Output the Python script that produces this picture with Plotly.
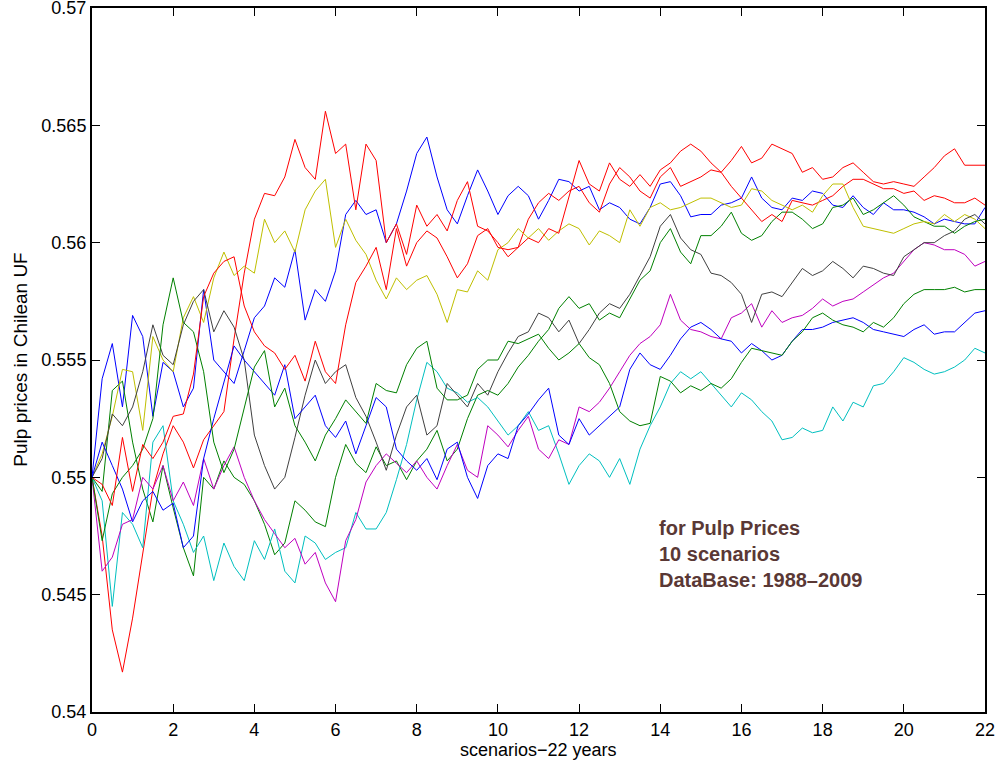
import plotly.graph_objects as go

# Simulated pulp price paths (Chilean UF), sampled every quarter year over 22 years.
blue_a = [
    0.5500, 0.5542, 0.5557, 0.5530,
    0.5569, 0.5560, 0.5526, 0.5549,
    0.5545, 0.5530, 0.5538, 0.5580,
    0.5550, 0.5545, 0.5540, 0.5554,
    0.5568, 0.5573, 0.5585, 0.5581,
    0.5597, 0.5567, 0.5580, 0.5575,
    0.5588, 0.5612, 0.5618, 0.5612,
    0.5614, 0.5600, 0.5608, 0.5622,
    0.5638, 0.5645, 0.5628, 0.5614,
    0.5608, 0.5620, 0.5631, 0.5622,
    0.5612, 0.5620, 0.5624, 0.5620,
    0.5610, 0.5618, 0.5627, 0.5626,
    0.5622, 0.5624, 0.5614, 0.5617,
    0.5615, 0.5610, 0.5608, 0.5615,
    0.5625, 0.5626, 0.5620, 0.5611,
    0.5612, 0.5612, 0.5616, 0.5617,
    0.5619, 0.5628, 0.5619, 0.5615,
    0.5614, 0.5619, 0.5618, 0.5622,
    0.5621, 0.5616, 0.5615, 0.5620,
    0.5615, 0.5612, 0.5617, 0.5614,
    0.5614, 0.5613, 0.5611, 0.5608,
    0.5610, 0.5609, 0.5608, 0.5608,
    0.5615,
]

green_a = [
    0.5500, 0.5494, 0.5537, 0.5541,
    0.5515, 0.5495, 0.5481, 0.5505,
    0.5487, 0.5470, 0.5458, 0.5500,
    0.5495, 0.5507, 0.5500, 0.5497,
    0.5490, 0.5480, 0.5467, 0.5472,
    0.5490, 0.5486, 0.5481, 0.5479,
    0.5500, 0.5514, 0.5506, 0.5502,
    0.5513, 0.5505, 0.5507, 0.5499,
    0.5507, 0.5512, 0.5520, 0.5507,
    0.5512, 0.5525, 0.5535, 0.5537,
    0.5535, 0.5540, 0.5547, 0.5552,
    0.5558, 0.5563, 0.5572, 0.5577,
    0.5572, 0.5574, 0.5567, 0.5570,
    0.5568, 0.5576, 0.5584, 0.5588,
    0.5600, 0.5606, 0.5596, 0.5591,
    0.5603, 0.5603, 0.5607, 0.5613,
    0.5604, 0.5601, 0.5603, 0.5609,
    0.5613, 0.5613, 0.5610, 0.5606,
    0.5608, 0.5615, 0.5616, 0.5619,
    0.5612, 0.5614, 0.5617, 0.5620,
    0.5616, 0.5611, 0.5609, 0.5607,
    0.5607, 0.5604, 0.5607, 0.5609,
    0.5610,
]

red_a = [
    0.5500, 0.5475, 0.5435, 0.5417,
    0.5440, 0.5468, 0.5495, 0.5510,
    0.5522, 0.5515, 0.5504, 0.5516,
    0.5522, 0.5528, 0.5559, 0.5587,
    0.5610, 0.5621, 0.5620, 0.5628,
    0.5644, 0.5632, 0.5627, 0.5656,
    0.5638, 0.5642, 0.5614, 0.5642,
    0.5635, 0.5600, 0.5608, 0.5595,
    0.5616, 0.5607, 0.5612, 0.5605,
    0.5618, 0.5626, 0.5607, 0.5605,
    0.5600, 0.5594, 0.5598, 0.5610,
    0.5617, 0.5621, 0.5618, 0.5622,
    0.5624, 0.5617, 0.5613, 0.5625,
    0.5632, 0.5628, 0.5622, 0.5619,
    0.5628, 0.5632, 0.5624, 0.5626,
    0.5628, 0.5631, 0.5630, 0.5624,
    0.5619, 0.5614, 0.5609, 0.5612,
    0.5609, 0.5618, 0.5617, 0.5616,
    0.5618, 0.5620, 0.5624, 0.5627,
    0.5627, 0.5625, 0.5623, 0.5623,
    0.5621, 0.5622, 0.5618, 0.5620,
    0.5619, 0.5617, 0.5617, 0.5619,
    0.5616,
]

cyan = [
    0.5500, 0.5490, 0.5445, 0.5485,
    0.5480, 0.5470, 0.5515, 0.5522,
    0.5490, 0.5480, 0.5468, 0.5475,
    0.5456, 0.5472, 0.5462, 0.5456,
    0.5473, 0.5465, 0.5478, 0.5460,
    0.5455, 0.5475, 0.5472, 0.5465,
    0.5468, 0.5470, 0.5485, 0.5478,
    0.5478, 0.5485, 0.5499, 0.5514,
    0.5533, 0.5549, 0.5545, 0.5538,
    0.5536, 0.5532, 0.5534, 0.5530,
    0.5524, 0.5518, 0.5522, 0.5528,
    0.5520, 0.5522, 0.5510, 0.5497,
    0.5505, 0.5510, 0.5507, 0.5500,
    0.5508, 0.5497, 0.5512, 0.5522,
    0.5530, 0.5540, 0.5545, 0.5542,
    0.5545, 0.5540, 0.5535, 0.5530,
    0.5536, 0.5533, 0.5528, 0.5524,
    0.5516, 0.5517, 0.5521, 0.5519,
    0.5520, 0.5530, 0.5524, 0.5532,
    0.5530, 0.5539, 0.5540, 0.5545,
    0.5551, 0.5549, 0.5546, 0.5544,
    0.5545, 0.5547, 0.5550, 0.5555,
    0.5553,
]

magenta = [
    0.5500, 0.5460, 0.5466, 0.5480,
    0.5482, 0.5500, 0.5495, 0.5505,
    0.5490, 0.5498, 0.5488, 0.5508,
    0.5495, 0.5505, 0.5513, 0.5500,
    0.5490, 0.5482, 0.5476, 0.5470,
    0.5474, 0.5463, 0.5468, 0.5455,
    0.5447, 0.5473, 0.5482, 0.5498,
    0.5505, 0.5510, 0.5506, 0.5502,
    0.5507, 0.5500, 0.5495, 0.5505,
    0.5514, 0.5503, 0.5500, 0.5522,
    0.5518, 0.5513, 0.5520, 0.5526,
    0.5512, 0.5508, 0.5516, 0.5514,
    0.5530, 0.5528, 0.5532, 0.5538,
    0.5545, 0.5552, 0.5557, 0.5560,
    0.5565, 0.5578, 0.5567, 0.5563,
    0.5562, 0.5560, 0.5559, 0.5568,
    0.5570, 0.5574, 0.5564, 0.5571,
    0.5566, 0.5568, 0.5569, 0.5572,
    0.5576, 0.5573, 0.5575, 0.5576,
    0.5579, 0.5582, 0.5585, 0.5587,
    0.5592, 0.5597, 0.5600, 0.5599,
    0.5597, 0.5597, 0.5595, 0.5590,
    0.5592,
]

yellow = [
    0.5500, 0.5510, 0.5526, 0.5546,
    0.5545, 0.5520, 0.5560, 0.5550,
    0.5545, 0.5568, 0.5577, 0.5566,
    0.5585, 0.5596, 0.5586, 0.5590,
    0.5587, 0.5610, 0.5600, 0.5605,
    0.5596, 0.5614, 0.5622, 0.5627,
    0.5598, 0.5610, 0.5601, 0.5595,
    0.5584, 0.5576, 0.5585, 0.5580,
    0.5584, 0.5586, 0.5578, 0.5566,
    0.5580, 0.5579, 0.5588, 0.5584,
    0.5597, 0.5600, 0.5606, 0.5602,
    0.5606, 0.5601, 0.5605, 0.5608,
    0.5606, 0.5599, 0.5605, 0.5603,
    0.5600, 0.5614, 0.5607, 0.5615,
    0.5617, 0.5614, 0.5615, 0.5617,
    0.5619, 0.5619, 0.5617, 0.5615,
    0.5616, 0.5623, 0.5622, 0.5618,
    0.5616, 0.5614, 0.5616, 0.5613,
    0.5620, 0.5625, 0.5625, 0.5615,
    0.5607, 0.5606, 0.5605, 0.5604,
    0.5606, 0.5608, 0.5609, 0.5608,
    0.5612, 0.5609, 0.5612, 0.5610,
    0.5606,
]

black = [
    0.5500, 0.5508, 0.5527, 0.5522,
    0.5530, 0.5545, 0.5565, 0.5552,
    0.5548, 0.5565, 0.5575, 0.5580,
    0.5562, 0.5571, 0.5564, 0.5550,
    0.5518, 0.5505, 0.5495, 0.5500,
    0.5517, 0.5535, 0.5550, 0.5540,
    0.5545, 0.5548, 0.5534, 0.5526,
    0.5515, 0.5503, 0.5518, 0.5530,
    0.5535, 0.5518, 0.5522, 0.5540,
    0.5535, 0.5530, 0.5540, 0.5535,
    0.5545, 0.5553, 0.5560, 0.5562,
    0.5570, 0.5568, 0.5562, 0.5567,
    0.5557, 0.5563, 0.5570, 0.5574,
    0.5572, 0.5578, 0.5586, 0.5594,
    0.5607, 0.5612, 0.5602, 0.5597,
    0.5595, 0.5587, 0.5586, 0.5583,
    0.5578, 0.5566, 0.5578, 0.5579,
    0.5577, 0.5583, 0.5589, 0.5586,
    0.5588, 0.5592, 0.5589, 0.5585,
    0.5590, 0.5589, 0.5587, 0.5586,
    0.5594, 0.5597, 0.5600, 0.5600,
    0.5603, 0.5605, 0.5610, 0.5612,
    0.5608,
]

blue_b = [
    0.5500, 0.5515, 0.5505, 0.5495,
    0.5481, 0.5490, 0.5494, 0.5486,
    0.5489, 0.5470, 0.5475, 0.5508,
    0.5525, 0.5540, 0.5556, 0.5550,
    0.5545, 0.5540, 0.5535, 0.5548,
    0.5525, 0.5530, 0.5535, 0.5522,
    0.5517, 0.5524, 0.5510, 0.5522,
    0.5534, 0.5530, 0.5512, 0.5507,
    0.5503, 0.5508, 0.5499, 0.5512,
    0.5515, 0.5500, 0.5491, 0.5505,
    0.5510, 0.5508, 0.5522, 0.5527,
    0.5533, 0.5538, 0.5518, 0.5514,
    0.5525, 0.5518, 0.5522, 0.5526,
    0.5530, 0.5546, 0.5553, 0.5548,
    0.5546, 0.5552, 0.5559, 0.5564,
    0.5566, 0.5563, 0.5559, 0.5558,
    0.5553, 0.5557, 0.5554, 0.5550,
    0.5552, 0.5558, 0.5563, 0.5563,
    0.5564, 0.5566, 0.5567, 0.5568,
    0.5566, 0.5563, 0.5562, 0.5561,
    0.5560, 0.5563, 0.5565, 0.5561,
    0.5562, 0.5562, 0.5566, 0.5570,
    0.5571,
]

green_b = [
    0.5500, 0.5473, 0.5493, 0.5500,
    0.5505, 0.5512, 0.5525, 0.5565,
    0.5585, 0.5566, 0.5562, 0.5545,
    0.5515, 0.5502, 0.5512, 0.5530,
    0.5547, 0.5554, 0.5530, 0.5538,
    0.5522, 0.5515, 0.5507, 0.5518,
    0.5525, 0.5533, 0.5528, 0.5523,
    0.5540, 0.5537, 0.5536, 0.5548,
    0.5555, 0.5558, 0.5538, 0.5533,
    0.5533, 0.5535, 0.5546, 0.5550,
    0.5550, 0.5558, 0.5557, 0.5559,
    0.5561, 0.5555, 0.5550, 0.5553,
    0.5557, 0.5551, 0.5548, 0.5540,
    0.5528, 0.5524, 0.5522, 0.5523,
    0.5543, 0.5541, 0.5536, 0.5539,
    0.5537, 0.5540, 0.5538, 0.5542,
    0.5549, 0.5555, 0.5554, 0.5553,
    0.5552, 0.5558, 0.5562, 0.5568,
    0.5570, 0.5567, 0.5565, 0.5564,
    0.5562, 0.5566, 0.5564, 0.5568,
    0.5574, 0.5578, 0.5580, 0.5580,
    0.5580, 0.5581, 0.5579, 0.5580,
    0.5580,
]

red_b = [
    0.5500, 0.5497, 0.5488, 0.5517,
    0.5494, 0.5514, 0.5508, 0.5515,
    0.5526, 0.5527, 0.5544, 0.5577,
    0.5587, 0.5592, 0.5594, 0.5573,
    0.5562, 0.5556, 0.5553, 0.5546,
    0.5552, 0.5541, 0.5558, 0.5545,
    0.5540, 0.5565, 0.5583, 0.5590,
    0.5598, 0.5580, 0.5606, 0.5590,
    0.5600, 0.5605, 0.5602, 0.5594,
    0.5585, 0.5591, 0.5603, 0.5606,
    0.5598, 0.5597, 0.5598, 0.5602,
    0.5600, 0.5606, 0.5604, 0.5620,
    0.5635, 0.5625, 0.5622, 0.5634,
    0.5627, 0.5624, 0.5629, 0.5624,
    0.5631, 0.5634, 0.5639, 0.5642,
    0.5639, 0.5634, 0.5630, 0.5635,
    0.5641, 0.5634, 0.5636, 0.5642,
    0.5640, 0.5638, 0.5630, 0.5632,
    0.5627, 0.5628, 0.5632, 0.5634,
    0.5630, 0.5626, 0.5625, 0.5626,
    0.5625, 0.5624, 0.5628, 0.5632,
    0.5637, 0.5640, 0.5633, 0.5633,
    0.5633,
]

# Series in plotting order with their line colours
series = [
    (blue_a, "#0000ff"),
    (green_a, "#008000"),
    (red_a, "#ff0000"),
    (cyan, "#00bfbf"),
    (magenta, "#bf00bf"),
    (yellow, "#bfbf00"),
    (black, "#404040"),
    (blue_b, "#0000ff"),
    (green_b, "#008000"),
    (red_b, "#ff0000"),
]

x_ticks = [0, 2, 4, 6, 8, 10, 12, 14, 16, 18, 20, 22]
y_ticks = [0.54, 0.545, 0.55, 0.555, 0.56, 0.565, 0.57]
y_tick_text = ["0.54", "0.545", "0.55", "0.555", "0.56", "0.565", "0.57"]

STEP = 0.25  # quarter-year sampling

fig = go.Figure()
for values, colour in series:
    years = [i * STEP for i in range(len(values))]
    fig.add_trace(go.Scatter(
        x=years, y=values, mode="lines",
        line=dict(color=colour, width=1),
        showlegend=False, hoverinfo="skip",
    ))

font_family = "Liberation Sans, Arial, Helvetica, sans-serif"
axis_common = dict(
    showgrid=False, zeroline=False,
    showline=True, linecolor="#000000", linewidth=2,
    mirror="ticks", ticks="inside", ticklen=8, tickwidth=1, tickcolor="#000000",
    tickfont=dict(family=font_family, size=18, color="#000000"),
    ticklabeloverflow="allow",
)

fig.update_layout(
    width=1001, height=768, autosize=False,
    margin=dict(l=92, r=16, t=8, b=56, autoexpand=False),
    paper_bgcolor="white", plot_bgcolor="white",
    xaxis=dict(range=[0, 22], tickvals=x_ticks, **axis_common),
    yaxis=dict(range=[0.54, 0.57], tickvals=y_ticks, ticktext=y_tick_text, **axis_common),
    annotations=[
        dict(text="scenarios\u221222 years", xref="paper", yref="paper",
             x=0.5, y=-0.054, xanchor="center", yanchor="middle", showarrow=False,
             font=dict(family=font_family, size=18, color="#000000")),
        dict(text="Pulp prices in Chilean UF", xref="paper", yref="paper",
             x=-0.081, y=0.5, xanchor="center", yanchor="middle", textangle=-90,
             showarrow=False, font=dict(family=font_family, size=19, color="#000000")),
        dict(text="<b>for Pulp Prices<br>10 scenarios<br>DataBase: 1988\u20132009</b>",
             xref="paper", yref="paper", x=0.6327, y=0.2251,
             xanchor="left", yanchor="middle", align="left", showarrow=False,
             font=dict(family=font_family, size=20, color="#5a3835")),
    ],
)

fig.write_html("out.html")
